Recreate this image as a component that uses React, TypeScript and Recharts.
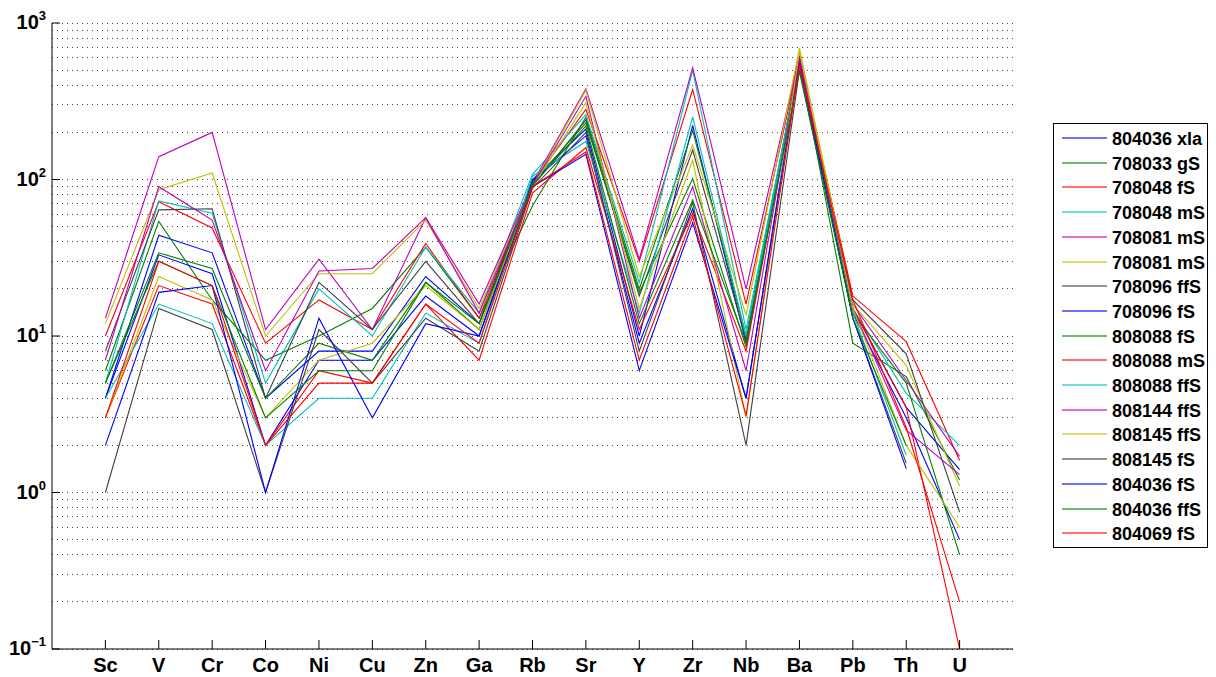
import React from 'react';
import { LineChart, Line, XAxis, YAxis, ReferenceLine } from 'recharts';

// Trace elements along the x axis
const ELEMENTS = ['Sc', 'V', 'Cr', 'Co', 'Ni', 'Cu', 'Zn', 'Ga', 'Rb', 'Sr', 'Y', 'Zr', 'Nb', 'Ba', 'Pb', 'Th', 'U'];

// Sample labels, in legend order
const SAMPLE_NAMES = [
  '804036 xla', '708033 gS', '708048 fS', '708048 mS', '708081 mS', '708081 mS',
  '708096 ffS', '708096 fS', '808088 fS', '808088 mS', '808088 ffS', '808144 ffS',
  '808145 ffS', '808145 fS', '804036 fS', '804036 ffS', '804069 fS',
];

// Classic colour cycle: blue, green, red, cyan, magenta, olive, dark grey
const LINE_COLORS = [
  '#0000ff', '#008000', '#ff0000', '#00bfbf', '#bf00bf', '#bfbf00', '#404040',
  '#0000ff', '#008000', '#ff0000', '#00bfbf', '#bf00bf', '#bfbf00', '#404040',
  '#0000ff', '#008000', '#ff0000',
];

// Concentrations (ppm) per sample, in ELEMENTS order; null = not measured
const s804036xla = [4, 44, 34, 4, 8, 8, 24, 12, 100, 210, 10, 222, 9, 600, 15, 3.5, 1.4];
const s708033gS = [6, 54, 17, 7, 10, 15, 37, 13, 68, 250, 20, 206, 10, 570, 9, 5.5, 1.2];
const s708048fS = [10, 72, 49, 9, 17, 11, 39, 13, 95, 280, 30, 376, 16, 600, 18, 9.2, 1.6];
const s708048mS = [5, 73, 61, 5, 20, 10, 37, 14, 108, 260, 22, 499, 11, 560, 15, 4.3, 2.0];
const s708081mS_a = [13, 140, 200, 11, 31, 11, 57, 16, 95, 380, 31, 519, 20, 620, 16, 5.2, 1.7];
const s708081mS_b = [12, 86, 110, 10, 25, 25, 55, 15, 92, 370, 24, 166, 13.6, 690, 16, 6.5, 1.1];
const s708096ffS = [8, 64, 65, 4, 22, 11, 30, 12, 90, 240, 18, 154, 9.5, 520, 17, 7.7, 0.75];
const s708096fS = [4, 33, 25, 2, 7, 7, 18, 10, 98, 190, 9, 65, 4, 580, 14, 3.0, 0.5];
const s808088fS = [5, 34, 27, 4, 9, 7, 22, 11, 95, 230, 19, 101, 8.5, 540, 14, 5.0, 0.4];
const s808088mS = [3, 21, 16, 2, 6, 5, 16, 7, 82, 160, 11, 61, 8, 560, 15, 3.5, 0.1];
const s808088ffS = [4, 16, 12, 2, 4, 4, 14, 9, 105, 175, 14, 251, 10, 530, 14, 1.73, null];
const s808144ffS = [7, 90, 55, 6, 26, 27, 57, 14, 92, 340, 13, 90, 6, 600, 15, 2.5, 1.3];
const s808145ffS = [3, 24, 17, 3, 7, 9, 21, 11, 90, 310, 15, 133, 3, 660, 15, 2.0, 0.6];
const s808145fS = [1, 15, 11, 1, 11, 5, 13, 8, 88, 200, 8, 71, 2, 500, 13, 1.54, null];
const s804036fS = [2, 19, 21, 1, 13, 3, 12, 10, 90, 145, 6, 53, 4, 550, 13, 1.42, null];
const s804036ffS = [5, 30, 21, 3, 6, 6, 22, 12, 92, 220, 12, 74, 9, 490, 13, 2.0, null];
const s804069fS = [3, 30, 21, 2, 5, 5, 16, 9, 90, 150, 7, 58, 3.1, 540, 17, 2.6, 0.2];

const SAMPLE_VALUES = [
  s804036xla, s708033gS, s708048fS, s708048mS, s708081mS_a, s708081mS_b,
  s708096ffS, s708096fS, s808088fS, s808088mS, s808088ffS, s808144ffS,
  s808145ffS, s808145fS, s804036fS, s804036ffS, s804069fS,
];

// Log axis: decade ticks and their exponent labels
const DECADES = [0.1, 1, 10, 100, 1000];
const DECADE_EXPONENTS = ['\u22121', '0', '1', '2', '3'];
// Dotted grid at every mantissa of each decade
const GRID_MANTISSAS = [1, 2, 3, 4, 5, 6, 7, 8, 9];
const GRID_VALUES = DECADES.slice(0, 4)
  .flatMap((d) => GRID_MANTISSAS.map((m) => d * m))
  .concat([1000]);

const POSITIONS = ELEMENTS.map((_, i) => i + 1);

const rows = ELEMENTS.map((el, i) => {
  const row: Record<string, number | string | null> = { pos: i + 1, el };
  SAMPLE_VALUES.forEach((vals, k) => {
    row['s' + k] = vals[i];
  });
  return row;
});

const FONT = '"Liberation Sans", Arial, Helvetica, sans-serif';

const DecadeTick = (props: any) => {
  const { x, y, payload } = props;
  const idx = DECADES.indexOf(payload.value);
  return (
    <text x={x} y={y + 6} textAnchor="end" fontFamily={FONT} fontWeight="bold" fontSize={20} fill="#000">
      10
      <tspan dy={-9} fontSize={13}>
        {DECADE_EXPONENTS[idx]}
      </tspan>
    </text>
  );
};

const ElementTick = (props: any) => {
  const { x, y, payload } = props;
  return (
    <text x={x} y={y + 23} textAnchor="middle" fontFamily={FONT} fontWeight="bold" fontSize={20} fill="#000">
      {ELEMENTS[payload.value - 1]}
    </text>
  );
};

const LegendBox = () => {
  const rowH = 24.7;
  return (
    <svg
      width={157}
      height={427}
      style={{ position: 'absolute', left: 1044, top: 114 }}
    >
      <rect x={1.5} y={1.5} width={154} height={424} fill="#fff" stroke="#000" strokeWidth={1} />
      {SAMPLE_NAMES.map((name, i) => {
        const cy = Math.round(16 + i * rowH);
        return (
          <g key={i}>
            <line x1={10} x2={55} y1={cy} y2={cy} stroke={LINE_COLORS[i]} strokeWidth={1.3} strokeOpacity={0.75} />
            <text x={60} y={cy + 7} fontFamily={FONT} fontWeight="bold" fontSize={18} fill="#000">
              {name}
            </text>
          </g>
        );
      })}
    </svg>
  );
};

export default function App() {
  return (
    <div style={{ position: 'relative', width: 1208, height: 669 }}>
      <LineChart
        width={1208}
        height={669}
        data={rows}
        margin={{ top: 15, right: 203, bottom: 0, left: 0 }}
        style={{ overflow: 'visible' }}
      >
        <XAxis
          xAxisId="bottom"
          dataKey="pos"
          type="number"
          domain={[0, 18]}
          ticks={POSITIONS}
          interval={0}
          height={28}
          tickSize={-9}
          tickMargin={9}
          tick={<ElementTick />}
          axisLine={{ stroke: '#000' }}
          tickLine={{ stroke: '#000' }}
          allowDataOverflow
        />
        <XAxis
          xAxisId="top"
          orientation="top"
          dataKey="pos"
          type="number"
          domain={[0, 18]}
          ticks={POSITIONS}
          interval={0}
          height={0}
          tickSize={-8}
          tick={false}
          axisLine={{ stroke: '#000' }}
          tickLine={{ stroke: '#000' }}
          allowDataOverflow
        />
        <YAxis
          yAxisId="left"
          scale="log"
          domain={[0.1, 1000]}
          ticks={DECADES}
          interval={0}
          allowDataOverflow
          width={44}
          tickSize={-8}
          tickMargin={14}
          tick={<DecadeTick />}
          axisLine={{ stroke: '#000' }}
          tickLine={{ stroke: '#000' }}
        />
        <YAxis
          yAxisId="right"
          orientation="right"
          scale="log"
          domain={[0.1, 1000]}
          ticks={DECADES}
          interval={0}
          allowDataOverflow
          width={0}
          tickSize={-8}
          tick={false}
          axisLine={{ stroke: '#000' }}
          tickLine={{ stroke: '#000' }}
        />
        {GRID_VALUES.map((v) => (
          <ReferenceLine
            key={'g' + v}
            y={v}
            xAxisId="bottom"
            yAxisId="left"
            stroke="#444"
            strokeWidth={1}
            strokeDasharray="1 4"
            shapeRendering="crispEdges"
          />
        ))}
        {SAMPLE_VALUES.map((_, k) => (
          <Line
            key={k}
            xAxisId="bottom"
            yAxisId="left"
            type="linear"
            dataKey={'s' + k}
            stroke={LINE_COLORS[k]}
            strokeWidth={1.1}
            dot={false}
            activeDot={false}
            connectNulls={false}
            isAnimationActive={false}
          />
        ))}
      </LineChart>
      <LegendBox />
    </div>
  );
}
